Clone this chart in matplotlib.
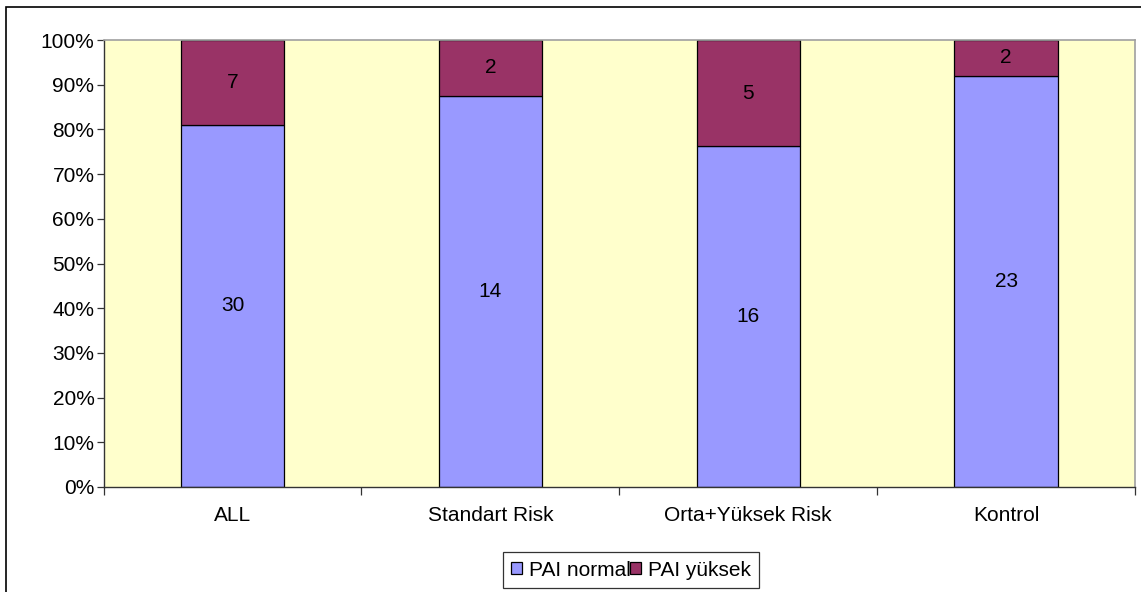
import numpy as np
import matplotlib.pyplot as plt
from matplotlib.patches import Rectangle
from matplotlib.ticker import PercentFormatter

plt.rcParams['font.family'] = ['Liberation Sans', 'DejaVu Sans']

groups = ["ALL", "Standart Risk", "Orta+Yüksek Risk", "Kontrol"]
pai_normal = [30, 14, 16, 23]
pai_yuksek = [7, 2, 5, 2]

normal = np.array(pai_normal, dtype=float)
yuksek = np.array(pai_yuksek, dtype=float)
total = normal + yuksek
normal_pct = normal / total * 100
yuksek_pct = yuksek / total * 100

fs = 15

fig = plt.figure(figsize=(11.41, 5.92), dpi=100)
ax = fig.add_axes([103.5 / 1141, 1 - 487 / 592, (1135 - 103.5) / 1141, (487 - 40) / 592])
ax.set_facecolor("#FFFFCC")

x = np.arange(len(groups))
w = 0.4
ax.bar(x, normal_pct, w, color="#9999FF", edgecolor="#000000", linewidth=0.9,
       label="PAI normal")
ax.bar(x, yuksek_pct, w, bottom=normal_pct, color="#993366", edgecolor="#000000",
       linewidth=0.9, label="PAI yüksek")

for i in range(len(groups)):
    ax.text(x[i], normal_pct[i] / 2, str(pai_normal[i]), ha="center", va="center",
            fontsize=fs)
    ax.text(x[i], normal_pct[i] + yuksek_pct[i] / 2, str(pai_yuksek[i]),
            ha="center", va="center", fontsize=fs)

ax.set_xlim(-0.5, len(groups) - 0.5)
ax.set_ylim(0, 100)
ax.set_yticks(np.arange(0, 101, 10))
ax.yaxis.set_major_formatter(PercentFormatter(decimals=0))
ax.set_xticks(np.arange(-0.5, len(groups), 1))
ax.set_xticklabels([])
ax.set_xticks(x, minor=True)
ax.set_xticklabels(groups, minor=True)
ax.tick_params(axis="x", which="minor", length=0, pad=14, labelsize=fs)
ax.tick_params(axis="x", which="major", length=6, width=0.9, color="#333333")
ax.tick_params(axis="y", length=5, width=0.9, color="#333333", pad=1.5, labelsize=fs)

for side in ["left", "bottom"]:
    ax.spines[side].set_color("#333333")
    ax.spines[side].set_linewidth(1.0)
for side in ["top", "right"]:
    ax.spines[side].set_color("#A0A0A0")
    ax.spines[side].set_linewidth(1.2)

leg = fig.legend(loc="center", bbox_to_anchor=(631 / 1141, 1 - 570 / 592), ncol=2,
                 fontsize=fs, frameon=True, fancybox=False, handlelength=0.5,
                 handleheight=0.55, handletextpad=0.33, columnspacing=0.0,
                 borderpad=0.4, borderaxespad=0)
leg.get_frame().set_edgecolor("#000000")
leg.get_frame().set_linewidth(0.9)

# outer chart border
fig.patches.append(Rectangle((5.5 / 1141, -0.1), 1.2, 1.1 - 6.5 / 592,
                             transform=fig.transFigure, fill=False,
                             edgecolor="#000000", linewidth=1.2))

fig.savefig("out.png", dpi=100)
